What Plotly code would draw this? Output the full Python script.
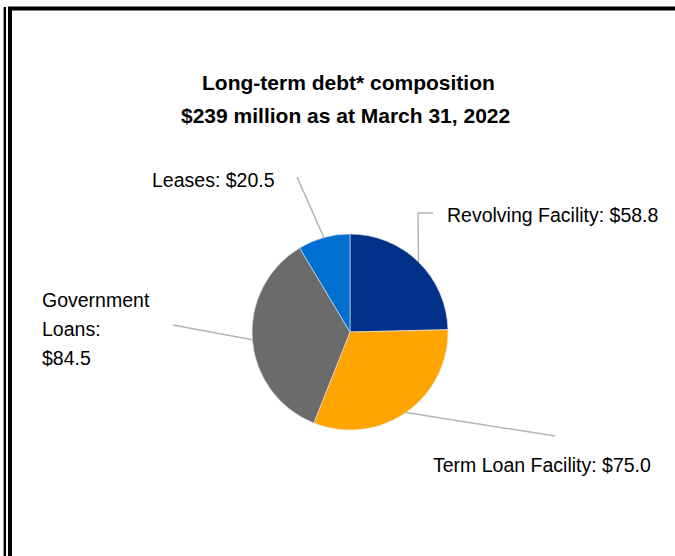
import math
import plotly.graph_objects as go

W, H = 675, 556

# Long-term debt composition, $ millions
categories = ["Revolving Facility", "Term Loan Facility", "Government Loans", "Leases"]
values = [58.8, 75.0, 84.5, 20.5]
colors = ["#003087", "#FFA500", "#6B6B6B", "#006FD2"]
label_lines = [
    ["Revolving Facility: $58.8"],
    ["Term Loan Facility: $75.0"],
    ["Government", "Loans:", "$84.5"],
    ["Leases: $20.5"],
]

# pie geometry in pixels
cx, cy, r = 350, 332, 98

# label anchor points (pixels) and the elbow/end of each leader line
label_pos = [(445, 215, "left"), (431, 465, "left"), (40, 300, "left"), (277, 180, "right")]
line_step = 29
leader_ends = [
    [(418, 213), (433, 213)],
    [(555, 436)],
    [(173, 325)],
    [(297, 177)],
]


def px(x):
    return x / W


def py(y):
    return 1 - y / H


fig = go.Figure()
fig.add_trace(go.Pie(
    labels=categories,
    values=values,
    marker=dict(colors=colors, line=dict(color="#E8E8E8", width=0.6)),
    sort=False,
    direction="clockwise",
    rotation=0,
    textinfo="none",
    hoverinfo="label+value",
    showlegend=False,
    domain=dict(x=[px(cx - r), px(cx + r)], y=[py(cy + r), py(cy - r)]),
))

shapes = []
total = sum(values)
cum = 0.0
for i, v in enumerate(values):
    # leader line starts at the outer edge, mid-angle of the slice
    mid = (cum + v / 2) / total * 2 * math.pi
    cum += v
    sx = cx + r * math.sin(mid)
    sy = cy - r * math.cos(mid)
    pts = [(sx, sy)] + leader_ends[i]
    path = "M " + " L ".join(f"{px(a):.5f},{py(b):.5f}" for a, b in pts)
    shapes.append(dict(type="path", xref="paper", yref="paper", path=path,
                       line=dict(color="#B4B4B4", width=1.5), layer="below"))

# frame lines
shapes += [
    dict(type="line", xref="paper", yref="paper", x0=px(3.5), x1=px(3.5), y0=py(7), y1=py(H),
         line=dict(color="#9A9A9A", width=1)),
    dict(type="line", xref="paper", yref="paper", x0=px(5), x1=px(5), y0=py(7), y1=py(H),
         line=dict(color="black", width=2)),
    dict(type="line", xref="paper", yref="paper", x0=px(10), x1=px(10), y0=py(7), y1=py(H),
         line=dict(color="black", width=4)),
    dict(type="line", xref="paper", yref="paper", x0=px(8), x1=px(W), y0=py(8.5), y1=py(8.5),
         line=dict(color="black", width=4)),
]

font_family = "Liberation Sans, Arial, sans-serif"
annotations = [
    dict(text="<b>Long-term debt* composition</b>", x=px(348), y=py(83), xref="paper", yref="paper",
         showarrow=False, xanchor="center", yanchor="middle",
         font=dict(size=21, color="black", family=font_family)),
    dict(text="<b>$239 million as at March 31, 2022</b>", x=px(345), y=py(115), xref="paper",
         yref="paper", showarrow=False, xanchor="center", yanchor="middle",
         font=dict(size=21, color="black", family=font_family)),
]
for (x, y, anchor), lines in zip(label_pos, label_lines):
    for k, t in enumerate(lines):
        annotations.append(dict(
            text=t, x=px(x), y=py(y + k * line_step), xref="paper", yref="paper",
            showarrow=False, xanchor=anchor, yanchor="middle", align="left",
            font=dict(size=19.5, color="black", family=font_family),
        ))

fig.update_layout(
    width=W, height=H,
    margin=dict(l=0, r=0, t=0, b=0),
    paper_bgcolor="white", plot_bgcolor="white",
    shapes=shapes, annotations=annotations,
)

fig.write_html("out.html", config={"displayModeBar": False})
